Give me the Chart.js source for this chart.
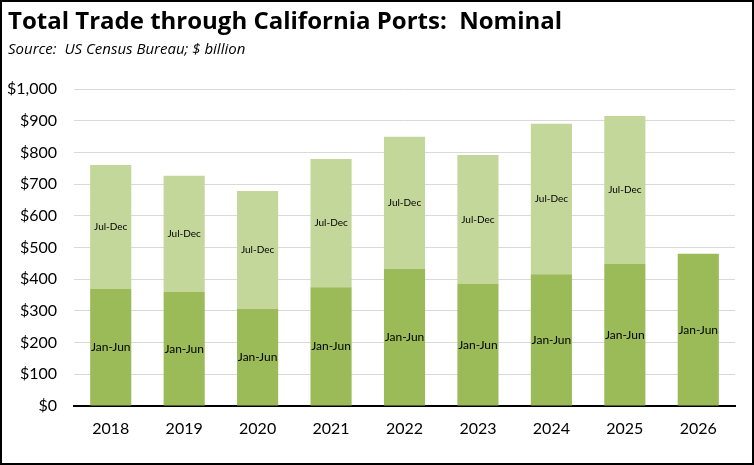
<!DOCTYPE html>
<html>
<head>
<meta charset="utf-8">
<script src="https://cdn.jsdelivr.net/npm/chart.js@4"></script>
<style>
  html, body { margin: 0; padding: 0; background: #fff; }
  #wrap { position: relative; width: 754px; height: 465px; overflow: hidden; }
  #chart { position: absolute; left: 0; top: 0; }
  #frame { position: absolute; left: 0; top: 0; width: 754px; height: 465px; box-sizing: border-box; border: 2px solid #000; pointer-events: none; }
  #title { position: absolute; left: 8px; top: 4px; font: bold 24px "Open Sans", sans-serif; line-height: 1.362; color: #000; white-space: pre; }
  #source { position: absolute; left: 8px; top: 38px; font: italic 15px "Open Sans", sans-serif; line-height: 1.362; color: #000; white-space: pre; }
</style>
</head>
<body>
<div id="wrap">
  <canvas id="chart" width="754" height="465"></canvas>
  <div id="title">Total Trade through California Ports:  Nominal</div>
  <div id="source">Source:  US Census Bureau; $ billion</div>
  <div id="frame"></div>
</div>
<script>
const years = ['2018', '2019', '2020', '2021', '2022', '2023', '2024', '2025', '2026'];
const janJun = [369, 360, 306, 375, 432, 385, 416, 448, 480];
const julDec = [391, 366, 372, 404, 417, 407, 474, 467, null];
const yTicks = [0, 100, 200, 300, 400, 500, 600, 700, 800, 900, 1000];

// writes the half-year name in the middle of each bar segment
const segmentLabels = {
  id: 'segmentLabels',
  afterDatasetsDraw(chart) {
    const ctx = chart.ctx;
    ctx.save();
    ctx.fillStyle = '#000';
    ctx.textAlign = 'center';
    ctx.textBaseline = 'middle';
    chart.data.datasets.forEach((ds, i) => {
      const meta = chart.getDatasetMeta(i);
      ctx.font = i === 0 ? '12px Lato, sans-serif' : '10px Lato, sans-serif';
      meta.data.forEach((bar, j) => {
        if (ds.data[j] == null) return;
        ctx.fillText(ds.label, bar.x, (bar.y + bar.base) / 2);
      });
    });
    ctx.restore();
  }
};

new Chart(document.getElementById('chart'), {
  type: 'bar',
  data: {
    labels: years,
    datasets: [
      { label: 'Jan-Jun', data: janJun, backgroundColor: '#9BBB59' },
      { label: 'Jul-Dec', data: julDec, backgroundColor: '#C4D79B' },
    ],
  },
  options: {
    responsive: false,
    animation: false,
    devicePixelRatio: 1,
    layout: { padding: { top: 89, right: 19, left: 0, bottom: 0 } },
    plugins: {
      legend: { display: false },
      tooltip: { enabled: false },
    },
    datasets: {
      bar: { barPercentage: 0.56, categoryPercentage: 1 },
    },
    scales: {
      x: {
        stacked: true,
        grid: { display: false, drawTicks: false },
        border: { color: '#000', width: 2 },
        ticks: { color: '#000', font: { family: 'Lato', size: 16 }, padding: 13 },
        afterFit(scale) { scale.height = 59; },
      },
      y: {
        stacked: true,
        min: 0,
        max: 1000,
        afterBuildTicks(scale) { scale.ticks = yTicks.map(v => ({ value: v })); },
        grid: { color: '#D9D9D9', lineWidth: 1, drawTicks: false },
        border: { display: false },
        ticks: {
          color: '#000',
          font: { family: 'Lato', size: 16 },
          padding: 17,
          callback: v => '$' + v.toLocaleString('en-US'),
        },
        afterFit(scale) { scale.width = 74; },
      },
    },
  },
  plugins: [segmentLabels],
});
</script>
</body>
</html>
